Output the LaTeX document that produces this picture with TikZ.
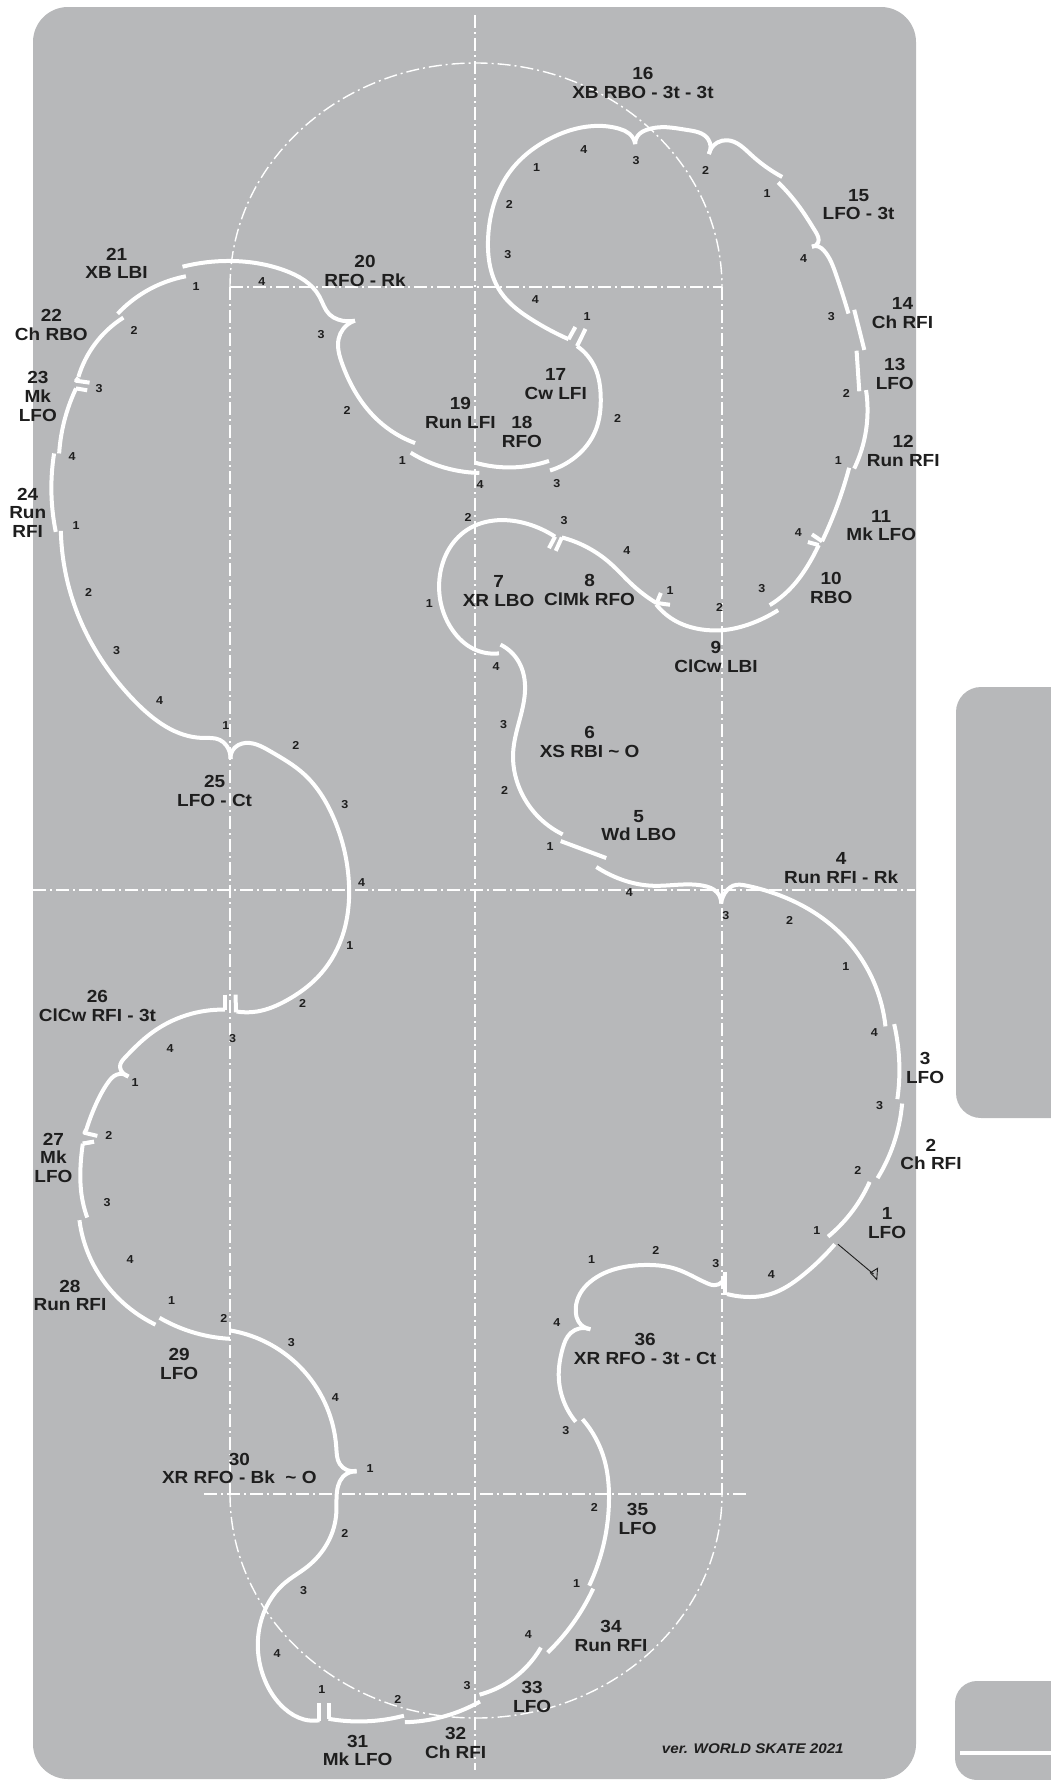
\documentclass[tikz,border=0pt]{standalone}
\usepackage{fontspec}
\usetikzlibrary{hobby}
\setmainfont[FakeStretch=1.085]{Liberation Sans}
\tikzset{
  z1/.style={x=0.33801pt,y=-0.38265pt},
  z2/.style={xshift=430pt,yshift=-40pt,x=0.33801pt,y=-0.38265pt},
  z3/.style={yshift=-560pt,x=0.33801pt,y=-0.38265pt},
  z4/.style={xshift=430pt,yshift=-600pt,x=0.39605pt,y=-0.44643pt},
  z5/.style={yshift=-1180pt,x=0.33801pt,y=-0.38265pt},
  z6/.style={xshift=430pt,yshift=-1180pt,x=0.39605pt,y=-0.38265pt},
  panel/.style={fill=panelgray},
  gridline/.style={draw=white,line width=1.4pt,dash pattern=on 13pt off 4pt on 2pt off 4pt},
  track/.style={draw=white,line width=4pt,line join=round,line cap=butt},
  lb/.style={font=\fontsize{17.5}{18.7}\selectfont\bfseries,text=labelgray,align=center,inner sep=0pt},
  dg/.style={font=\fontsize{11.5}{12}\selectfont\bfseries,text=labelgray,inner sep=0pt},
}
\definecolor{panelgray}{HTML}{B7B8BA}
\definecolor{labelgray}{HTML}{1E1E1E}
\def\trkdraw#1{\draw[track,use Hobby shortcut] #1;}
\def\trkdone{\expandafter\trkdraw\expandafter{\trkpts}}
\def\trkscan#1(#2){%
  \ifx\relax#2\expandafter\trkdone\else
    \ifx\trkpts\empty\def\trkpts{(#2)}\else
      \expandafter\def\expandafter\trkpts\expandafter{\trkpts .. (#2)}\fi
    \expandafter\trkscan
  \fi}
\newcommand\trk[1]{\def\trkpts{}\trkscan#1(\relax)}
\newcommand\lbl[3]{\node[lb] at (#1,#2) {#3};}
\newcommand\dgt[3]{\node[dg] at (#1,#2) {#3};}
\begin{document}
\begin{tikzpicture}[x=1pt,y=-1pt]
\useasboundingbox (0,0) rectangle (1051,1780);
% panels
\fill[panel,rounded corners=35pt] (33,7) rectangle (916,1779);
\fill[panel] (1051,687) {[rounded corners=25pt] -- (956,687) -- (956,1118)} -- (1051,1118) -- cycle;
\fill[panel] (1051,1681) {[rounded corners=22pt] -- (955,1681) -- (955,1780)} -- (1051,1780) -- cycle;
\draw[track] (960,1753) -- (1051,1753);
% rink guide lines
\draw[gridline] (230,287) -- (230,1494);
\draw[gridline] (475,15) -- (475,1770);
\draw[gridline] (722,287) -- (722,1494);
\draw[gridline] (230,287) -- (722,287);
\draw[gridline] (33,890) -- (915,890);
\draw[gridline] (204,1494) -- (749,1494);
\draw[gridline] (230,287) arc[start angle=180,end angle=360,x radius=246,y radius=224];
\draw[gridline] (230,1494) arc[start angle=180,end angle=0,x radius=246,y radius=224];
% ---------- upper left
\begin{scope}[z1]
\trk{(540,697) (680,682) (840,706) (945,775) (975,822) (1000,835) (1050,838)}
\trk{(1050,838) (1015,860) (1002,885) (1012,950) (1120,1100) (1228,1158)}
\trk{(1215,1183) (1300,1218) (1418,1236)}
\trk{(348,820) (430,762) (550,722)}
\trk{(232,985) (280,900) (365,830)}
\draw[track] (232,987) -- (225,995) -- (265,1000);
\draw[track] (258,1020) -- (225,1015);
\trk{(225,1015) (185,1120) (175,1185)}
\trk{(160,1185) (152,1280) (165,1390)}
\lbl{345}{688}{21\\XB LBI}
\lbl{152}{849}{22\\Ch RBO}
\lbl{112}{1036}{23\\Mk\\LFO}
\lbl{82}{1340}{24\\Run\\RFI}
\lbl{1080}{708}{20\\RFO - Rk}
\lbl{1362}{1080}{19\\Run LFI}
\dgt{580}{750}{1}\dgt{397}{863}{2}\dgt{293}{1016}{3}\dgt{213}{1193}{4}\dgt{225}{1373}{1}
\dgt{775}{737}{4}\dgt{950}{873}{3}\dgt{1027}{1072}{2}\dgt{1190}{1203}{1}\dgt{1420}{1267}{4}\dgt{1385}{1352}{2}
\end{scope}
% ---------- upper right
\begin{scope}[z2]
\trk{(135,1105) (240,1117) (352,1100)}
\trk{(355,1125) (430,1090) (490,1020) (505,930) (490,860) (435,800)}
\draw[track] (435,800) -- (460,755);
\trk{(204,1603) (128,1591) (68,1544) (28,1408) (110,1280) (200,1255) (290,1265) (370,1298)}
\draw[track] (370,1298) -- (352,1328);
\draw[track] (372,1335) -- (390,1300);
\trk{(390,1300) (530,1365) (600,1425) (669,1471)}
\draw[track] (669,1471) -- (710,1476);
\draw[track] (683,1445) -- (669,1475);
\trk{(669,1475) (730,1520) (800,1540) (870,1542) (950,1525) (1030,1490)}
\trk{(1005,1477) (1070,1430) (1120,1370) (1150,1320)}
\draw[track] (1150,1320) -- (1118,1312);
\draw[track] (1130,1292) -- (1160,1310);
\trk{(1160,1310) (1190,1250) (1240,1118)}
\trk{(1255,1120) (1290,1020) (1290,915)}
\trk{(1270,918) (1262,812)}
\trk{(1285,810) (1255,705)}
\trk{(1238,715) (1200,610) (1165,550) (1150,540) (1130,540)}
\trk{(1130,540) (1148,530) (1140,500) (1100,445) (1030,372)}
\trk{(1042,358) (950,300) (880,262) (850,268) (825,298)}
\trk{(825,298) (822,258) (760,235) (700,228) (640,235) (620,245) (607,272)}
\trk{(607,272) (590,245) (560,232) (480,225) (350,260) (240,340) (172,515) (210,660) (300,730) (410,782)}
\draw[track] (410,782) -- (430,750);
\lbl{630}{112}{16\\XB RBO - 3t - 3t}
\lbl{1268}{430}{15\\LFO - 3t}
\lbl{1398}{714}{14\\Ch RFI}
\lbl{1375}{872}{13\\LFO}
\lbl{1400}{1074}{12\\Run RFI}
\lbl{1335}{1269}{11\\Mk LFO}
\lbl{1187}{1432}{10\\RBO}
\lbl{372}{900}{17\\Cw LFI}
\lbl{272}{1025}{18\\RFO}
\lbl{203}{1441}{7\\XR LBO}
\lbl{472}{1437}{8\\ClMk RFO}
\dgt{455}{285}{4}\dgt{315}{333}{1}\dgt{610}{315}{3}\dgt{815}{342}{2}\dgt{997}{400}{1}\dgt{1105}{570}{4}
\dgt{1187}{722}{3}\dgt{1232}{925}{2}\dgt{1208}{1100}{1}\dgt{1090}{1287}{4}\dgt{982}{1433}{3}\dgt{857}{1482}{2}
\dgt{710}{1440}{1}\dgt{582}{1335}{4}\dgt{397}{1257}{3}\dgt{235}{430}{2}\dgt{230}{562}{3}\dgt{312}{677}{4}
\dgt{465}{722}{1}\dgt{555}{988}{2}\dgt{375}{1158}{3}
\end{scope}
% ---------- middle left
\begin{scope}[z3]
\trk{(180,-76) (225,130) (400,370) (600,465) (650,470) (670,485) (682,520)}
\trk{(682,520) (695,490) (715,480) (800,500) (900,560) (985,670) (1032,840) (1010,990) (940,1090) (850,1150) (760,1180) (700,1180)}
\draw[track] (698,1182) -- (697,1136);
\draw[track] (665,1136) -- (665,1175);
\trk{(665,1175) (450,1235) (370,1300) (355,1325) (365,1342) (380,1350)}
\trk{(380,1350) (345,1345) (320,1365) (285,1420) (255,1490)}
\draw[track] (255,1488) -- (250,1497) -- (288,1505);
\draw[track] (278,1520) -- (245,1525);
\lbl{635}{603}{25\\LFO - Ct}
\lbl{288}{1165}{26\\ClCw RFI - 3t}
\dgt{262}{85}{2}\dgt{345}{237}{3}\dgt{472}{367}{4}\dgt{668}{433}{1}\dgt{875}{485}{2}\dgt{1020}{640}{3}
\dgt{1070}{843}{4}\dgt{1035}{1007}{1}\dgt{895}{1158}{2}\dgt{688}{1250}{3}\dgt{503}{1277}{4}\dgt{400}{1365}{1}
\dgt{322}{1505}{2}\dgt{1270}{113}{1}\dgt{1468}{278}{4}\dgt{1490}{430}{3}\dgt{1493}{602}{2}
\end{scope}
% ---------- right middle
\begin{scope}[z4]
\trk{(1130,1295) (1170,1220) (1192,1128)}
\trk{(1180,1118) (1185,1040) (1172,950)}
\trk{(1150,955) (1040,750) (800,640) (765,640) (750,650) (735,680)}
\trk{(735,680) (725,655) (690,640) (560,640) (480,625) (420,598)}
\trk{(445,578) (330,540)}
\trk{(335,525) (225,420) (210,340) (240,200) (225,140) (178,100)}
\draw[labelgray,line width=0.9pt] (1030,1443) -- (1120,1510);
\draw[labelgray,line width=0.9pt,line join=miter] (1112,1507) -- (1130,1497) -- (1128,1522) -- cycle;
\lbl{722}{127}{9\\ClCw LBI}
\lbl{403}{318}{6\\XS RBI \textasciitilde{} O}
\lbl{527}{505}{5\\Wd LBO}
\lbl{1038}{600}{4\\Run RFI - Rk}
\lbl{1250}{1049}{3\\LFO}
\lbl{1265}{1242}{2\\Ch RFI}
\dgt{303}{553}{1}\dgt{503}{655}{4}\dgt{747}{707}{3}\dgt{908}{717}{2}\dgt{1050}{822}{1}\dgt{1122}{968}{4}
\dgt{1135}{1133}{3}\dgt{1080}{1277}{2}\dgt{977}{1413}{1}
\end{scope}
% ---------- lower left
\begin{scope}[z5]
\draw[track] (278,-100) -- (245,-95);
\trk{(245,-95) (238,-30) (240,30) (258,98)}
\trk{(235,105) (270,210) (340,300) (460,378)}
\trk{(472,360) (560,395) (680,415)}
\trk{(680,393) (900,500) (995,700) (1005,742) (1055,760)}
\trk{(1055,762) (1015,775) (1000,800) (995,870) (910,1010) (840,1055) (770,1160) (785,1310) (840,1380) (900,1410) (945,1412)}
\draw[track] (945,1414) -- (945,1368);
\draw[track] (972,1368) -- (972,1408);
\trk{(972,1408) (1060,1415) (1195,1400)}
\trk{(1198,1417) (1300,1405) (1420,1363)}
\lbl{158}{-58}{27\\Mk\\LFO}
\lbl{207}{302}{28\\Run RFI}
\lbl{530}{480}{29\\LFO}
\lbl{708}{754}{30\\XR RFO - Bk \ \textasciitilde{} O}
\lbl{1058}{1491}{31\\Mk LFO}
\lbl{1348}{1472}{32\\Ch RFI}
\dgt{317}{60}{3}\dgt{385}{207}{4}\dgt{508}{316}{1}\dgt{662}{362}{2}\dgt{862}{425}{3}\dgt{992}{568}{4}
\dgt{1095}{753}{1}\dgt{1020}{925}{2}\dgt{898}{1073}{3}\dgt{820}{1238}{4}\dgt{952}{1332}{1}\dgt{1177}{1358}{2}\dgt{1382}{1320}{3}
\end{scope}
% ---------- lower right
\begin{scope}[z6]
\trk{(125,1345) (200,1310) (280,1222)}
\trk{(297,1235) (360,1160) (412,1068)}
\trk{(402,1060) (452,830) (440,730) (385,625)}
\trk{(368,632) (325,510) (335,440) (355,400) (405,390)}
\trk{(405,390) (375,370) (368,345) (470,232) (550,222) (620,232) (700,270) (718,275) (745,245)}
\trk{(1022,168) (940,250) (860,298) (790,305) (750,298)}
\draw[track] (745,300) -- (745,240);
\trk{(1005,148) (1060,90) (1110,5)}
\lbl{258}{1351}{33\\LFO}
\lbl{457}{1192}{34\\Run RFI}
\lbl{524}{885}{35\\LFO}
\lbl{543}{442}{36\\XR RFO - 3t - Ct}
\lbl{1154}{113}{1\\LFO}
\node[font=\fontsize{14}{15}\selectfont\bfseries\itshape,text=labelgray,inner sep=0pt] at (815,1485) {ver. WORLD SKATE 2021};
\dgt{408}{208}{1}\dgt{570}{183}{2}\dgt{722}{218}{3}\dgt{862}{248}{4}\dgt{320}{372}{4}\dgt{343}{655}{3}
\dgt{415}{855}{2}\dgt{370}{1055}{1}\dgt{248}{1188}{4}
\end{scope}
\end{tikzpicture}
\end{document}
